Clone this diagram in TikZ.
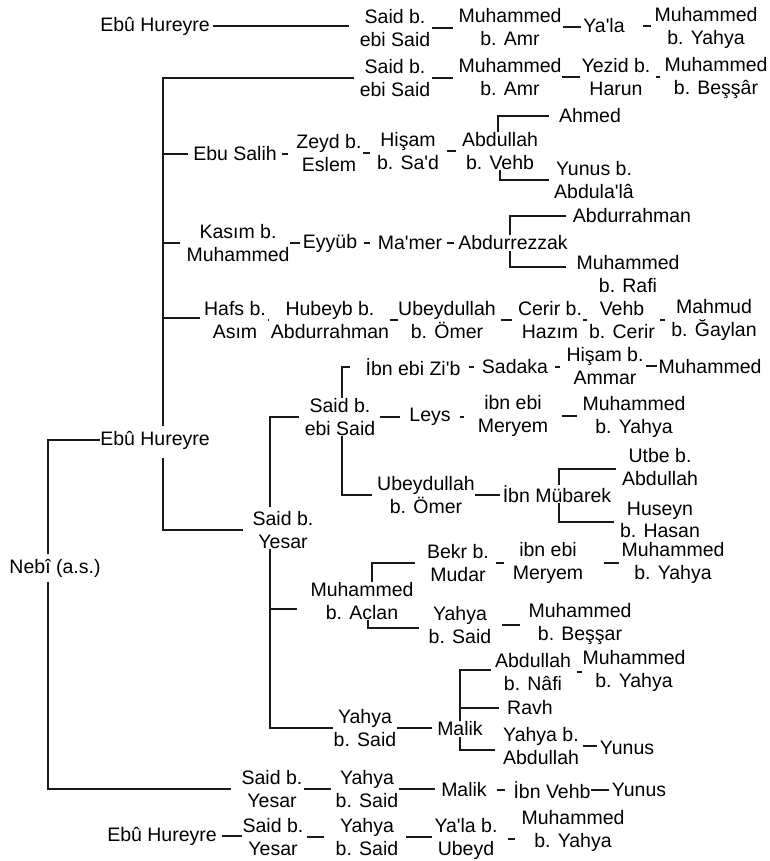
\documentclass[tikz,border=0pt]{standalone}
\usepackage{fontspec}
\setmainfont{Liberation Sans}
\newcommand{\ap}{\textquotesingle}
\newcommand{\lnk}[4]{\draw[shorten <=#3, shorten >=#4] (#1.east) -- (#1.east -| #2.west);}
\begin{document}
\begin{tikzpicture}[x=1pt,y=-1pt,line width=1.1pt, color=black!90,
  n/.style={align=center, inner sep=0pt, text=black, font=\fontsize{19.5}{22.5}\selectfont}]
\fill[white] (0,0) rectangle (769,861);
\useasboundingbox (0,0) rectangle (769,861);
\coordinate (sp0) at (48,0);
\coordinate (sp1) at (163,0);
\coordinate (sp2) at (270,0);
% row 1
\node[n] (eh1) at (155,26) {Ebû Hureyre};
\node[n] (r1a) at (395,28) {Said b.\\ebi Said};
\node[n] (r1b) at (510,27) {Muhammed\\b. Amr};
\node[n] (r1c) at (604,26) {Ya\ap la};
\node[n] (r1d) at (706,28) {Muhammed\\b. Yahya};
% row 2
\node[n] (r2a) at (395,78) {Said b.\\ebi Said};
\node[n] (r2b) at (510,77) {Muhammed\\b. Amr};
\node[n] (r2c) at (616,77) {Yezid b.\\Harun};
\node[n] (r2d) at (716,78) {Muhammed\\b. Beşşâr};
% row 3
\node[n] (salih) at (235,154) {Ebu Salih};
\node[n] (zeyd) at (329,153) {Zeyd b.\\Eslem};
\node[n] (hisam) at (408,151) {Hişam\\b. Sa\ap d};
\node[n] (abd) at (500,151) {Abdullah\\b. Vehb};
\node[n] (ahmed) at (590,116) {Ahmed};
\node[n] (yunus1) at (594,180) {Yunus b.\\Abdula\ap lâ};
% row 4
\node[n] (kasim) at (238,243) {Kasım b.\\Muhammed};
\node[n] (eyyub) at (330,243) {Eyyüb};
\node[n] (mamer) at (410,243) {Ma\ap mer};
\node[n] (abdrz) at (513,243) {Abdurrezzak};
\node[n] (abdrh) at (632,216) {Abdurrahman};
\node[n] (mrafi) at (628,274) {Muhammed\\b. Rafi};
% row 5
\node[n] (hafs) at (235,320) {Hafs b.\\Asım};
\node[n] (hubeyb) at (330,320) {Hubeyb b.\\Abdurrahman};
\node[n] (ubey1) at (447,320) {Ubeydullah\\b. Ömer};
\node[n] (cerir) at (550,320) {Cerir b.\\Hazım};
\node[n] (vehb) at (622,320) {Vehb\\b. Cerir};
\node[n] (mahmud) at (714,320) {Mahmud\\b. Ğaylan};
% Ebu Hureyre / Nebi
\node[n] (eh2) at (155,440) {Ebû Hureyre};
\node[n] (nebi) at (55,568) {Nebî (a.s.)};
% Said b. Yesar
\node[n] (sby) at (283,530) {Said b.\\Yesar};
\node[n] (sebs) at (340,417) {Said b.\\ebi Said};
\node[n] (ibnzib) at (413,367) {İbn ebi Zi\ap b};
\node[n] (sadaka) at (515,367) {Sadaka};
\node[n] (hisam2) at (605,366) {Hişam b.\\Ammar};
\node[n] (muh1) at (710,367) {Muhammed};
\node[n] (leys) at (430,417) {Leys};
\node[n] (ibnmer1) at (513,416) {ibn ebi\\Meryem};
\node[n] (muhy1) at (634,417) {Muhammed\\b. Yahya};
\node[n] (ubey2) at (426,495) {Ubeydullah\\b. Ömer};
\node[n] (ibnmub) at (557,494) {İbn Mübarek};
\node[n] (utbe) at (660,467) {Utbe b.\\Abdullah};
\node[n] (huseyn) at (660,520) {Huseyn\\b. Hasan};
% Muhammed b. Aclan
\node[n] (mac) at (362,601) {Muhammed\\b. Aclan};
\node[n] (bekr) at (458,563) {Bekr b.\\Mudar};
\node[n] (ibnmer2) at (548,563) {ibn ebi\\Meryem};
\node[n] (muhy2) at (673,563) {Muhammed\\b. Yahya};
\node[n] (ys1) at (460,625) {Yahya\\b. Said};
\node[n] (mbes) at (580,624) {Muhammed\\b. Beşşar};
% Yahya b. Said / Malik
\node[n] (ys2) at (365,728) {Yahya\\b. Said};
\node[n] (malik1) at (460,729) {Malik};
\node[n] (abdn) at (533,672) {Abdullah\\b. Nâfi};
\node[n] (muhy3) at (634,671) {Muhammed\\b. Yahya};
\node[n] (ravh) at (530,708) {Ravh};
\node[n] (yab) at (541,746) {Yahya b.\\Abdullah};
\node[n] (yunus2) at (627,748) {Yunus};
% bottom rows
\node[n] (sby2) at (272,789) {Said b.\\Yesar};
\node[n] (ys3) at (367,789) {Yahya\\b. Said};
\node[n] (malik2) at (464,790) {Malik};
\node[n] (ibnvehb) at (552,790) {İbn Vehb};
\node[n] (yunus3) at (639,790) {Yunus};
\node[n] (eh3) at (162,836) {Ebû Hureyre};
\node[n] (sby3) at (273,837) {Said b.\\Yesar};
\node[n] (ys4) at (367,837) {Yahya\\b. Said};
\node[n] (yala) at (466,839) {Ya\ap la b.\\Ubeyd};
\node[n] (muhy4) at (573,831) {Muhammed\\b. Yahya};

% ---- connectors
\lnk{eh1}{r1a}{3pt}{10pt}
\lnk{r1a}{r1b}{1pt}{5pt}
\lnk{r1b}{r1c}{1pt}{2pt}
\lnk{r1c}{r1d}{18pt}{3pt}
\draw[shorten >=4pt] ([xshift=-5pt]r2a.west) -| ([xshift=8pt]eh2.north);
\draw[shorten <=8pt] ([xshift=8pt]eh2.south) |- ([xshift=-9pt]sby.west);
\lnk{r2a}{r2b}{1pt}{5pt}
\lnk{r2b}{r2c}{0pt}{1pt}
\lnk{r2c}{r2d}{5pt}{4pt}
\draw (salih.west -| sp1) -- ([xshift=-5pt]salih.west);
\lnk{salih}{zeyd}{5pt}{8pt}
\lnk{zeyd}{hisam}{1pt}{7pt}
\lnk{hisam}{abd}{7pt}{6pt}
\draw ([xshift=-2pt]abd.north) |- ([xshift=-10pt]ahmed.west);
\draw (abd.south) |- ([xshift=-5pt]yunus1.west);
\draw (kasim.west -| sp1) -- ([xshift=-6pt]kasim.west);
\lnk{kasim}{eyyub}{0pt}{2pt}
\lnk{eyyub}{mamer}{6pt}{7pt}
\lnk{mamer}{abdrz}{4pt}{4pt}
\draw ([xshift=-3pt]abdrz.north) |- ([xshift=-6pt]abdrh.west);
\draw ([xshift=-3pt]abdrz.south) |- ([xshift=-10pt,yshift=7pt]mrafi.west);
\draw ([yshift=2pt]hafs.west -| sp1) -- ([xshift=-4pt,yshift=2pt]hafs.west);
\lnk{hafs}{hubeyb}{2pt}{2pt}
\lnk{hubeyb}{ubey1}{0pt}{0pt}
\lnk{ubey1}{cerir}{5pt}{5pt}
\lnk{cerir}{vehb}{0pt}{2pt}
\lnk{vehb}{mahmud}{5pt}{6pt}
% Nebi spine
\draw[shorten >=4pt] (eh2.west) -| (nebi.north -| sp0);
\draw[shorten <=4pt] (nebi.south -| sp0) |- ([xshift=-10pt]sby2.west);
% Said b. Yesar spine
\draw[shorten <=4pt] (sby.north -| sp2) |- ([xshift=-5pt]sebs.west);
\draw (sby.south -| sp2) |- (ys2.west);
\draw ([yshift=-8pt]mac.west -| sp2) -- ([xshift=-13pt,yshift=-8pt]mac.west);
% Said b. ebi Said
\draw ([xshift=2pt]sebs.north) |- ([xshift=-15pt]ibnzib.west);
\draw ([xshift=2pt]sebs.south) |- ([xshift=-5pt]ubey2.west);
\lnk{ibnzib}{sadaka}{8pt}{7pt}
\lnk{sadaka}{hisam2}{6pt}{6pt}
\lnk{hisam2}{muh1}{2pt}{1pt}
\lnk{sebs}{leys}{4pt}{9pt}
\lnk{leys}{ibnmer1}{9pt}{13pt}
\lnk{ibnmer1}{muhy1}{13pt}{5pt}
\lnk{ubey2}{ibnmub}{0pt}{2pt}
\draw ([xshift=2pt]ibnmub.north) |- ([xshift=-6pt,yshift=-2pt]utbe.west);
\draw ([xshift=2pt]ibnmub.south) |- ([xshift=-6pt,yshift=-2pt]huseyn.west);
% Muhammed b. Aclan
\draw ([xshift=10pt]mac.north) |- ([xshift=-12pt]bekr.west);
\draw ([xshift=6pt]mac.south) |- ([xshift=-9pt,yshift=-3pt]ys1.west);
\lnk{bekr}{ibnmer2}{7pt}{8pt}
\lnk{ibnmer2}{muhy2}{20pt}{2pt}
\lnk{ys1}{mbes}{10pt}{8pt}
% Malik
\lnk{ys2}{malik1}{0pt}{5pt}
\draw (malik1.north) |- ([xshift=-4pt,yshift=2pt]abdn.west);
\draw (ravh.west -| malik1.north) -- ([xshift=-8pt]ravh.west);
\draw (malik1.south) |- ([xshift=-8pt,yshift=-4pt]yab.west);
\lnk{abdn}{muhy3}{5pt}{0pt}
\lnk{yab}{yunus2}{3pt}{2pt}
% bottom rows
\lnk{sby2}{ys3}{1pt}{4pt}
\lnk{ys3}{malik2}{0pt}{6pt}
\lnk{malik2}{ibnvehb}{10pt}{8pt}
\lnk{ibnvehb}{yunus3}{0pt}{2pt}
\lnk{eh3}{sby3}{5pt}{0pt}
\lnk{sby3}{ys4}{3pt}{11pt}
\lnk{ys4}{yala}{7pt}{2pt}
\lnk{yala}{muhy4}{10pt}{6pt}
\end{tikzpicture}
\end{document}
